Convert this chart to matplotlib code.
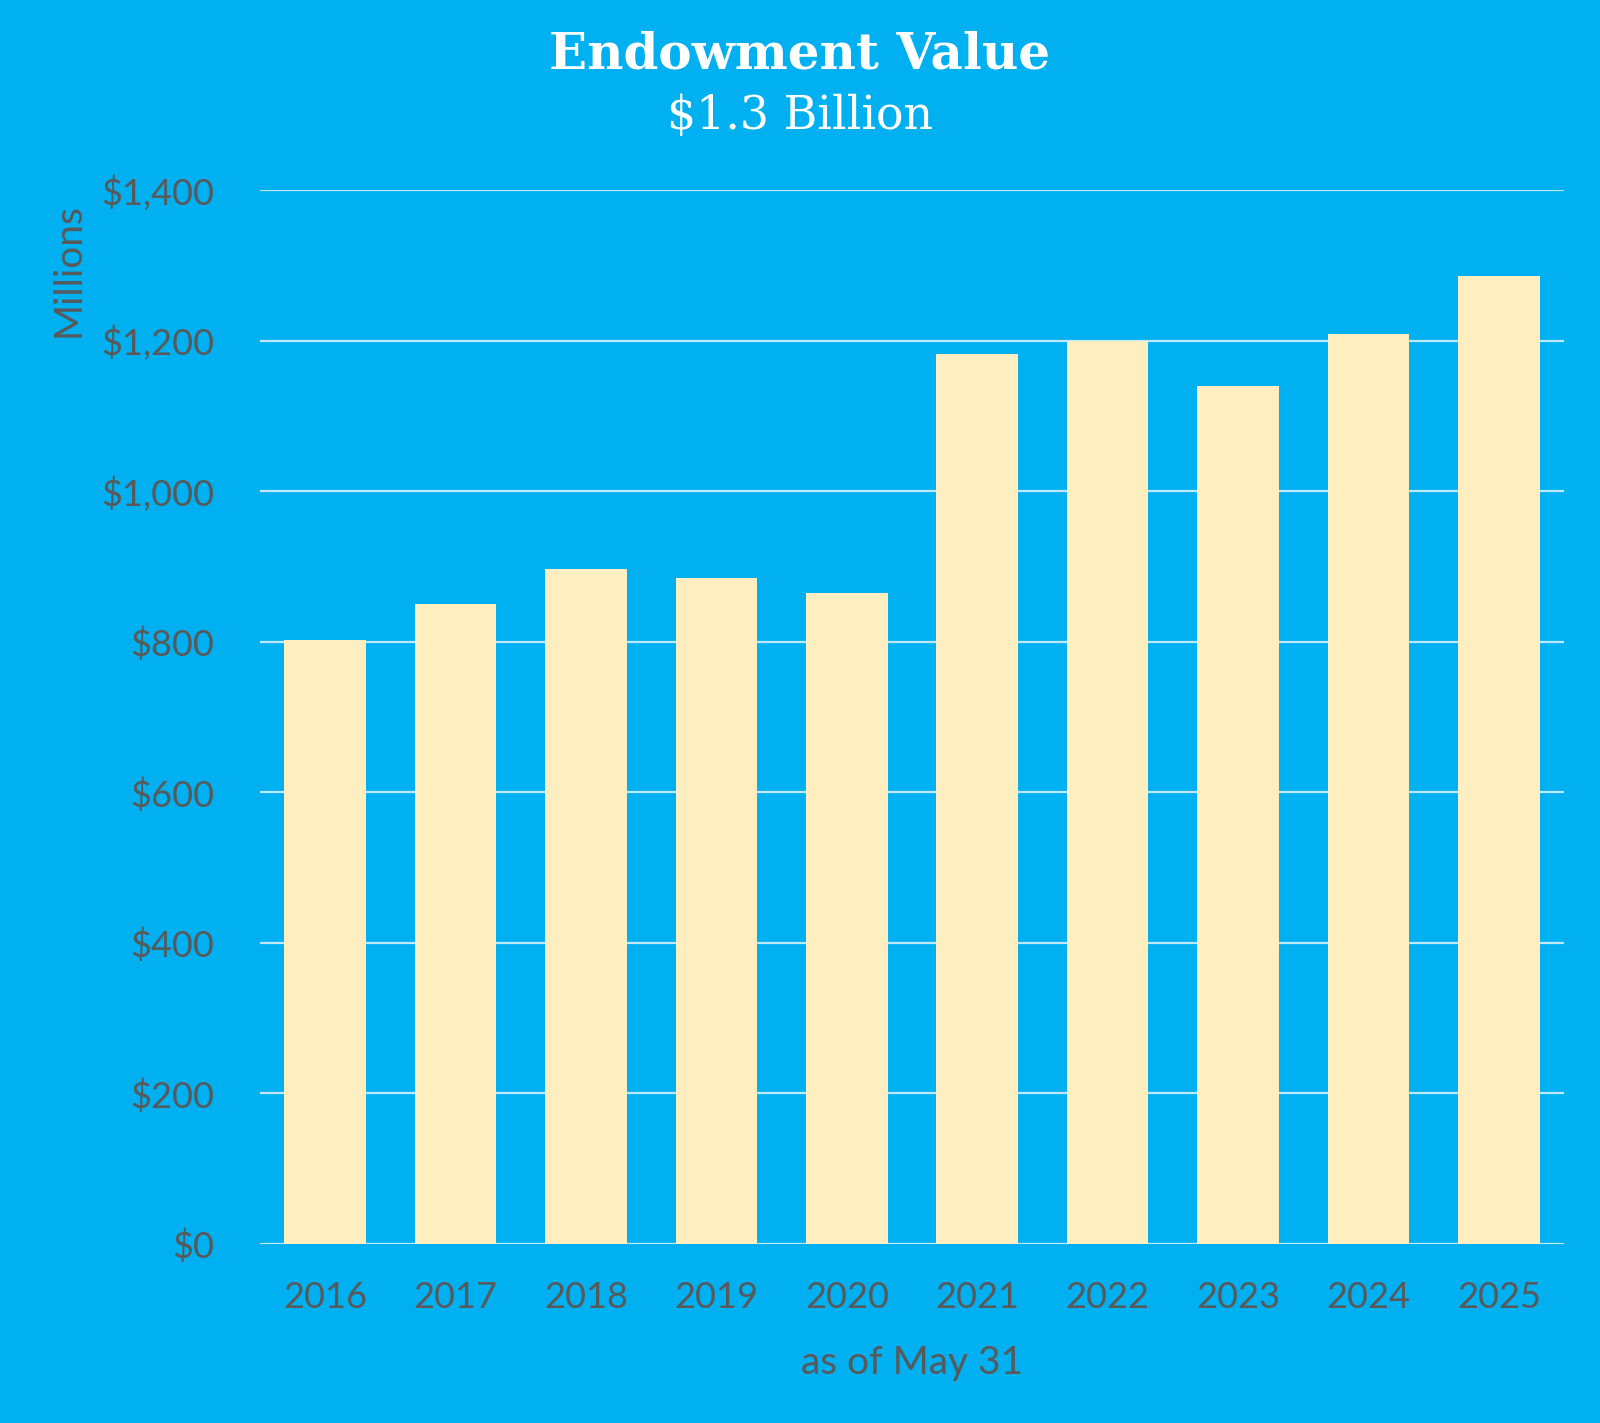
import matplotlib
matplotlib.use("Agg")
import matplotlib.pyplot as plt
from matplotlib.ticker import FuncFormatter

# === Data (millions of dollars, as of May 31) ===
years = ["2016", "2017", "2018", "2019", "2020", "2021", "2022", "2023", "2024", "2025"]
values = [802, 850, 896, 885, 865, 1182, 1200, 1140, 1209, 1286]
y_ticks = [0, 200, 400, 600, 800, 1000, 1200, 1400]

bg = "#00B0F0"
bar_color = "#FFEFC0"
grid_color = "#BFE9FA"
text_gray = "#595959"

fig = plt.figure(figsize=(16, 14.23), dpi=100, facecolor=bg)
ax = fig.add_axes([0.1625, 0.1258, 0.815, 0.7407])
ax.set_facecolor(bg)

x = range(len(years))
ax.bar(x, values, width=0.625, color=bar_color, zorder=3)

ax.set_xlim(-0.5, len(years) - 0.5)
ax.set_ylim(0, 1400)
ax.set_yticks(y_ticks)
ax.yaxis.set_major_formatter(FuncFormatter(lambda v, p: "${:,.0f}".format(v)))
ax.set_xticks(list(x))
ax.set_xticklabels(years)

ax.grid(axis="y", color=grid_color, linewidth=1.6, zorder=1)
for s in ax.spines.values():
    s.set_visible(False)
ax.tick_params(length=0, labelsize=26, labelcolor=text_gray)
ax.tick_params(axis="y", pad=33)
ax.tick_params(axis="x", pad=27)
for lbl in ax.get_xticklabels() + ax.get_yticklabels():
    lbl.set_family("Lato")

ax.set_xlabel("as of May 31", fontsize=28, color=text_gray, family="Lato", labelpad=22)

fig.text(0.043, 0.81, "Millions", rotation=90, fontsize=28, color=text_gray,
         family="Lato", ha="center", va="center")

# titles
fig.text(0.5, 0.961, "Endowment Value", fontsize=36, fontweight="bold",
         color="white", family="DejaVu Serif", ha="center", va="center")
fig.text(0.5, 0.918, "$1.3 Billion", fontsize=33, color="white",
         family="DejaVu Serif", ha="center", va="center")

fig.savefig("out.png", dpi=100, facecolor=bg)
